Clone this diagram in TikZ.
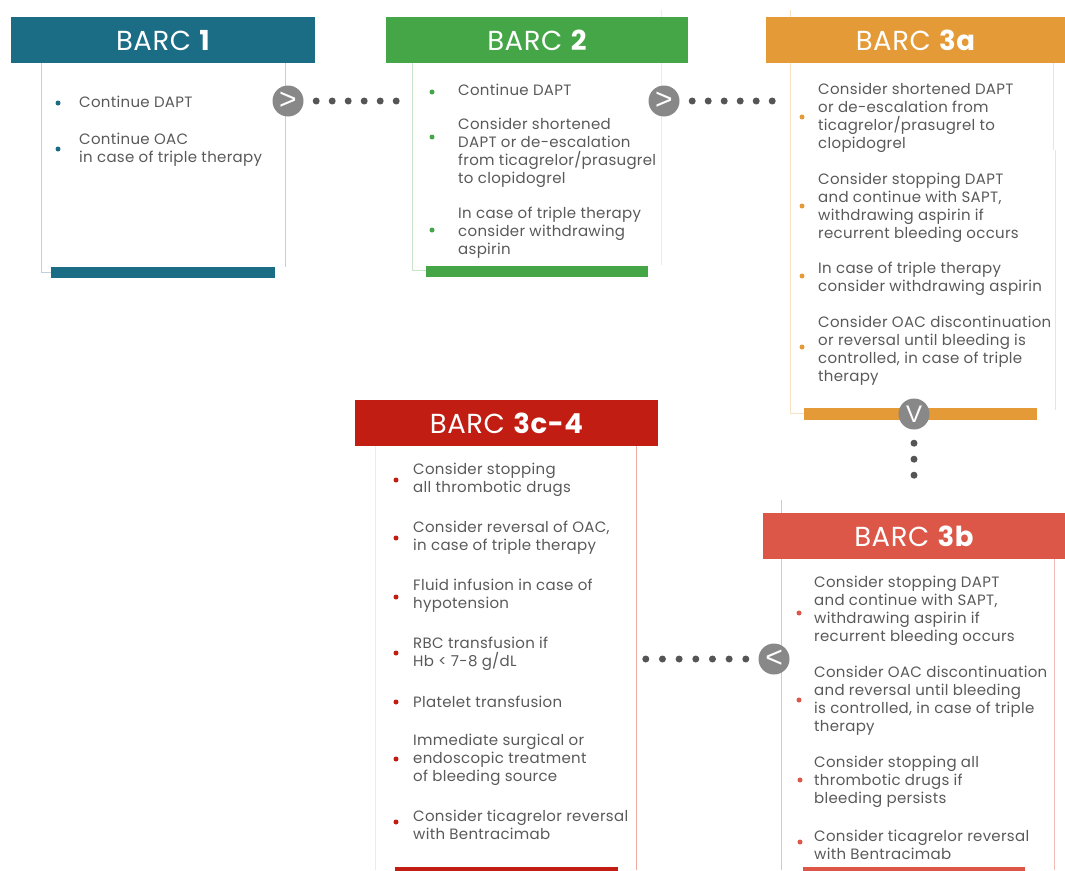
\documentclass[tikz,border=0pt]{standalone}
\usepackage{fontspec}
\setmainfont{Poppins}[LetterSpace=2]
\newfontfamily\signfont{Liberation Sans}
\usetikzlibrary{positioning}

\definecolor{barcone}{HTML}{1A6D85}
\definecolor{barctwo}{HTML}{44A646}
\definecolor{barcthreea}{HTML}{E49A36}
\definecolor{barcthreeb}{HTML}{DC5748}
\definecolor{barcfour}{HTML}{C21D13}
\definecolor{txtgray}{HTML}{595959}
\definecolor{stepgray}{HTML}{888888}
\definecolor{dotgray}{HTML}{555555}

\begin{document}
\begin{tikzpicture}[x=1pt, y=-1pt,
	header/.style = {
		rectangle, anchor=north west, inner sep=0pt,
		minimum height=46pt, text=white,
		font=\fontsize{27.5}{30}\selectfont},
	item/.style = {
		anchor=west, align=left, inner sep=0pt, text=txtgray,
		font=\fontsize{15}{18}\selectfont},
	bullet/.style = {circle, inner sep=0pt, minimum size=5pt},
	stepsign/.style = {
		circle, fill=stepgray, inner sep=0pt, minimum size=31pt,
		text=white, font=\signfont\fontsize{30}{30}\selectfont},
	dotline/.style = {
		dotgray, line width=7pt, line cap=round,
		dash pattern=on 0pt off #1},
	dotline/.default=16pt]
	\useasboundingbox (0,0) rectangle (1065,870);

	% BARC 1
	\draw[barcone!30, thick] (41,63) -- (41,272) -- (52,272);
	\draw[barcone!30, thick] (285,63) -- (285,267);
	\fill[barcone] (51,267) rectangle (275,278);
	\node[header, fill=barcone, minimum width=304pt] (h1) at (11,17) {BARC \textbf{1}};
	\node[bullet, fill=barcone] (b11) at (58,103) {};
	\node[item] (t11) at (79,102) {Continue DAPT};
	\node[bullet, fill=barcone] (b12) at (58,149) {};
	\node[item] (t12) at (79,150) {Continue OAC\\in case of triple therapy};

	% BARC 2
	\draw[barctwo!30, thick] (412,62) -- (412,270) -- (426,270);
	\draw[black!8, thick] (661,10) -- (661,265);
	\fill[barctwo] (426,266) rectangle (648,277);
	\node[header, fill=barctwo, minimum width=302pt] (h2) at (386,17) {BARC \textbf{2}};
	\node[bullet, fill=barctwo] (b21) at (432,92) {};
	\node[item] (t21) at (458,90) {Continue DAPT};
	\node[bullet, fill=barctwo] (b22) at (432,137) {};
	\node[item] (t22) at (458,153) {Consider shortened\\DAPT or de-escalation\\from ticagrelor/prasugrel\\to clopidogrel};
	\node[bullet, fill=barctwo] (b23) at (432,230) {};
	\node[item] (t23) at (458,233) {In case of triple therapy\\consider withdrawing\\aspirin};

	% BARC 3a
	\draw[barcthreea!30, thick] (790,10) -- (790,413) -- (804,413);
	\draw[barcthreea!30, thick] (1053,62) -- (1053,150);
	\draw[barcthreea!30, thick] (1055,150) -- (1055,410);
	\fill[barcthreea] (804,408) rectangle (1037,420);
	\node[header, fill=barcthreea, minimum width=299pt] (h3a) at (766,17) {BARC \textbf{3a}};
	\node[bullet, fill=barcthreea] (b31) at (802,117) {};
	\node[item] (t31) at (818,118) {Consider shortened DAPT\\or de-escalation from\\ticagrelor/prasugrel to\\clopidogrel};
	\node[bullet, fill=barcthreea] (b32) at (802,206) {};
	\node[item] (t32) at (818,208) {Consider stopping DAPT\\and continue with SAPT,\\withdrawing aspirin if\\recurrent bleeding occurs};
	\node[bullet, fill=barcthreea] (b33) at (802,276) {};
	\node[item] (t33) at (818,279) {In case of triple therapy\\consider withdrawing aspirin};
	\node[bullet, fill=barcthreea] (b34) at (802,347) {};
	\node[item] (t34) at (818,351) {Consider OAC discontinuation\\or reversal until bleeding is\\controlled, in case of triple\\therapy};

	% BARC 3c-4
	\draw[black!8, thick] (375,400) -- (375,870);
	\draw[barcthreeb!50, thick] (636,446) -- (636,870);
	\fill[barcfour] (395,867) rectangle (618,872);
	\node[header, fill=barcfour, minimum width=303pt] (h4) at (355,400) {BARC \textbf{3c-4}};
	\node[bullet, fill=barcfour] (b41) at (396,480) {};
	\node[item] (t41) at (413,480) {Consider stopping\\all thrombotic drugs};
	\node[bullet, fill=barcfour] (b42) at (396,538) {};
	\node[item] (t42) at (413,538) {Consider reversal of OAC,\\in case of triple therapy};
	\node[bullet, fill=barcfour] (b43) at (396,597) {};
	\node[item] (t43) at (413,596) {Fluid infusion in case of\\hypotension};
	\node[bullet, fill=barcfour] (b44) at (396,653) {};
	\node[item] (t44) at (413,654) {RBC transfusion if\\Hb < 7-8 g/dL};
	\node[bullet, fill=barcfour] (b45) at (396,702) {};
	\node[item] (t45) at (413,702) {Platelet transfusion};
	\node[bullet, fill=barcfour] (b46) at (396,759) {};
	\node[item] (t46) at (413,760) {Immediate surgical or\\endoscopic treatment\\of bleeding source};
	\node[bullet, fill=barcfour] (b47) at (396,822) {};
	\node[item] (t47) at (413,825) {Consider ticagrelor reversal\\with Bentracimab};

	% BARC 3b
	\draw[barcthreeb!40, thick] (781,500) -- (781,870);
	\draw[barcthreeb!40, thick] (1054,559) -- (1054,870);
	\fill[barcthreeb] (803,867) rectangle (1025,872);
	\node[header, fill=barcthreeb, minimum width=302pt] (h3b) at (763,513) {BARC \textbf{3b}};
	\node[bullet, fill=barcthreeb] (b51) at (799,613) {};
	\node[item] (t51) at (814,611) {Consider stopping DAPT\\and continue with SAPT,\\withdrawing aspirin if\\recurrent bleeding occurs};
	\node[bullet, fill=barcthreeb] (b52) at (799,700) {};
	\node[item] (t52) at (814,701) {Consider OAC discontinuation\\and reversal until bleeding\\is controlled, in case of triple\\therapy};
	\node[bullet, fill=barcthreeb] (b53) at (800,780) {};
	\node[item] (t53) at (814,782) {Consider stopping all\\thrombotic drugs if\\bleeding persists};
	\node[bullet, fill=barcthreeb] (b54) at (800,842) {};
	\node[item] (t54) at (814,845) {Consider ticagrelor reversal\\with Bentracimab};

	% steps between the boxes
	\node[stepsign] (s1) at (288,101) {>};
	\node[stepsign] (s2) at (664,101) {>};
	\node[stepsign, font=\signfont\fontsize{24}{24}\selectfont] (s3) at (914,414) {V};
	\node[stepsign] (s4) at (774,659) {<};
	\coordinate (e1) at (397,101);
	\coordinate (e2) at (773,101);
	\coordinate (e3) at (914,476);
	\coordinate (e4) at (645,659);
	\draw[dotline] ([xshift=12.5pt]s1.east) -- (e1);
	\draw[dotline] ([xshift=12.5pt]s2.east) -- (e2);
	\draw[dotline] ([yshift=-13.5pt]s3.south) -- (e3);
	\draw[dotline=16.67pt] ([xshift=-12.5pt]s4.west) -- (e4);
\end{tikzpicture}
\end{document}
